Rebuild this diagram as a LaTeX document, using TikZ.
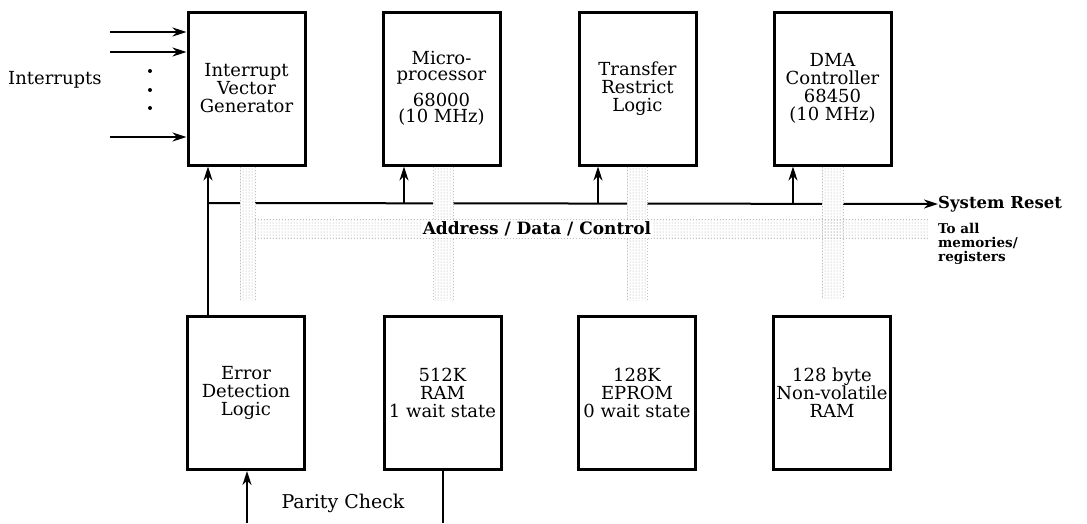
\documentclass[tikz,border=0pt]{standalone}
\usepackage{fontspec}
\setmainfont{DejaVu Serif}
\usetikzlibrary{arrows.meta,patterns}
\begin{document}
\begin{tikzpicture}[x=1pt,y=-1pt,
  blk/.style={draw, line width=3pt, minimum width=117pt, minimum height=153pt,
    align=center, inner sep=0pt, font=\fontsize{18}{18}\selectfont},
  lbl/.style={inner sep=0pt, font=\fontsize{18}{18}\selectfont},
  blbl/.style={inner sep=0pt, font=\bfseries\fontsize{17}{17}\selectfont},
  conn/.style={line width=2pt},
  arr/.style={conn, -{Stealth[length=14pt,width=9pt]}},
  bus/.style={pattern=dots, pattern color=gray!70},
  busedge/.style={draw=gray!50, dotted, line width=1pt}
]
\useasboundingbox[fill=white] (0,0) rectangle (1087,523);

% top row
\node[blk] (ivg) at (246.5,88.5) {Interrupt\\Vector\\Generator};
\node[blk, font=\fontsize{18}{16}\selectfont] (mpu) at (441.5,88.5) {Micro-\\processor\\[8pt]68000\\(10 MHz)};
\node[blk] (trl) at (637.5,88.5) {Transfer\\Restrict\\Logic};
\node[blk] (dma) at (832.5,88.5) {DMA\\Controller\\68450\\(10 MHz)};
% bottom row
\node[blk] (err) at (246,393) {Error\\Detection\\Logic};
\node[blk] (ram) at (442.5,393) {512K\\RAM\\1 wait state};
\node[blk] (rom) at (637,393) {128K\\EPROM\\0 wait state};
\node[blk] (nvr) at (832,393) {128 byte\\Non-volatile\\RAM};

% interrupts
\node[lbl, anchor=west] (intl) at (8,80) {Interrupts};
\coordinate (i1) at (110,32);
\coordinate (i2) at (110,52);
\coordinate (i3) at (110,137);
\draw[arr] (i1) -- (i1 -| ivg.west);
\draw[arr] (i2) -- (i2 -| ivg.west);
\draw[arr] (i3) -- (i3 -| ivg.west);
\fill (150,71) circle (2);
\fill (150,90) circle (2);
\fill (150,108) circle (2);

% system reset line
\node[blbl, font=\bfseries\fontsize{16.5}{17}\selectfont, anchor=west] (sr) at (938,204) {System Reset};
\coordinate (jn) at (208,203);
\draw[arr] (err.north -| jn) -- (ivg.south -| jn);
\draw[arr] (jn) -- (sr.west);
\coordinate (bm) at (404,203);
\coordinate (bt) at (598,203);
\coordinate (bd) at (793,203);
\draw[arr] (bm) -- (bm |- mpu.south);
\draw[arr] (bt) -- (bt |- trl.south);
\draw[arr] (bd) -- (bd |- dma.south);

% address / data / control bus
\fill[white] (240,167) rectangle (255,300);
\fill[white] (433,167) rectangle (453,300);
\fill[white] (627,167) rectangle (647,300);
\fill[white] (822,167) rectangle (843,298);
\fill[white] (255,219) rectangle (928,238);
\fill[bus] (240,167) rectangle (255,300);
\fill[bus] (433,167) rectangle (453,300);
\fill[bus] (627,167) rectangle (647,300);
\fill[bus] (822,167) rectangle (843,298);
\fill[bus] (255,219) rectangle (928,238);
\draw[busedge] (240,167) -- (240,300) (255,167) -- (255,300);
\draw[busedge] (433,167) -- (433,300) (453,167) -- (453,300);
\draw[busedge] (627,167) -- (627,300) (647,167) -- (647,300);
\draw[busedge] (822,167) -- (822,298) (843,167) -- (843,298);
\draw[busedge] (255,219) -- (928,219) (255,238) -- (928,238);
\node[blbl, fill=white, inner sep=1.5pt] (adc) at (537,229) {Address / Data / Control};
\node[blbl, font=\bfseries\fontsize{13.5}{14}\selectfont, anchor=north west, align=left] (toall) at (938,223) {To all\\memories/\\registers};

% parity check
\coordinate (p1) at (247,523);
\coordinate (p2) at (443,523);
\draw[arr] (p1) -- (p1 |- err.south);
\draw[conn] (ram.south -| p2) -- (p2);
\node[lbl, font=\fontsize{19}{19}\selectfont] (pc) at (343,503) {Parity Check};
\end{tikzpicture}
\end{document}
